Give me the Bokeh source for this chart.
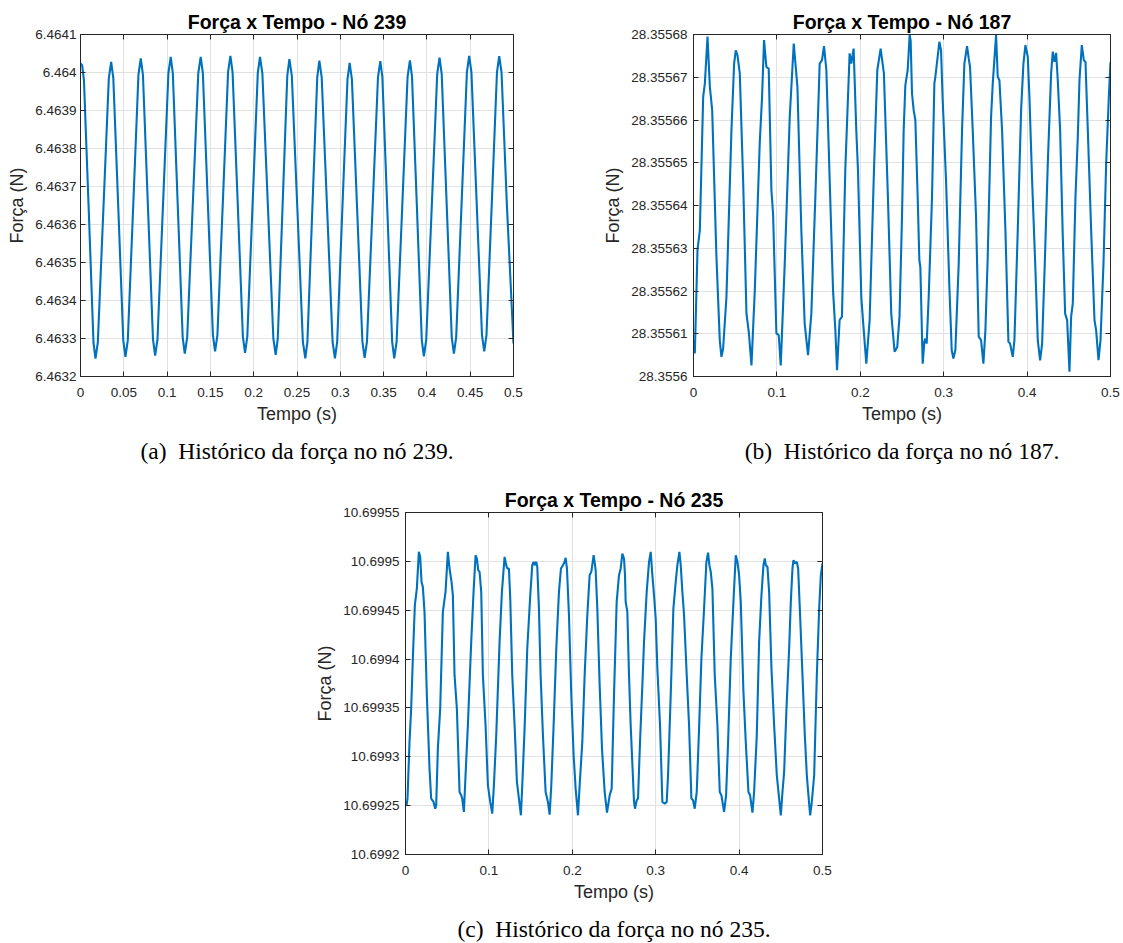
from bokeh.plotting import figure
from bokeh.models import Range1d, FixedTicker, LinearAxis, CustomJSTickFormatter, Title
from bokeh.layouts import column, row
from bokeh.embed import file_html
from bokeh.resources import INLINE

# ---------------- data: node 239 ----------------
t_239 = [
    0.0000, 0.0019, 0.0040, 0.0096, 0.0150, 0.0173,
    0.0200, 0.0264, 0.0327, 0.0354, 0.0379, 0.0437, 0.0494, 0.0519,
    0.0546, 0.0608, 0.0669, 0.0696, 0.0721, 0.0779, 0.0837, 0.0862,
    0.0889, 0.0952, 0.1015, 0.1042, 0.1066, 0.1123, 0.1180, 0.1204,
    0.1232, 0.1296, 0.1360, 0.1388, 0.1413, 0.1471, 0.1529, 0.1554,
    0.1581, 0.1643, 0.1704, 0.1731, 0.1756, 0.1816, 0.1875, 0.1900,
    0.1926, 0.1987, 0.2047, 0.2073, 0.2100, 0.2164, 0.2227, 0.2254,
    0.2278, 0.2333, 0.2388, 0.2412, 0.2440, 0.2504, 0.2568, 0.2596,
    0.2620, 0.2677, 0.2734, 0.2758, 0.2785, 0.2848, 0.2911, 0.2938,
    0.2964, 0.3023, 0.3083, 0.3108, 0.3134, 0.3195, 0.3255, 0.3281,
    0.3308, 0.3372, 0.3435, 0.3462, 0.3486, 0.3543, 0.3599, 0.3623,
    0.3650, 0.3714, 0.3777, 0.3804, 0.3828, 0.3885, 0.3941, 0.3965,
    0.3992, 0.4056, 0.4119, 0.4146, 0.4171, 0.4229, 0.4287, 0.4312,
    0.4338, 0.4400, 0.4462, 0.4488, 0.4514, 0.4575, 0.4636, 0.4662,
    0.4688, 0.4749, 0.4809, 0.4835, 0.4862, 0.4923, 0.5000,
]
f_239 = [
    6.464024, 6.464019, 6.463979, 6.463633, 6.463289, 6.463247,
    6.463290, 6.463638, 6.463985, 6.464028, 6.463985, 6.463640, 6.463295, 6.463252,
    6.463295, 6.463645, 6.463994, 6.464037, 6.463994, 6.463646, 6.463298, 6.463255,
    6.463298, 6.463648, 6.463998, 6.464041, 6.463998, 6.463650, 6.463303, 6.463260,
    6.463303, 6.463650, 6.463998, 6.464041, 6.463998, 6.463654, 6.463309, 6.463266,
    6.463309, 6.463655, 6.464001, 6.464044, 6.464001, 6.463653, 6.463305, 6.463262,
    6.463305, 6.463652, 6.463998, 6.464041, 6.463998, 6.463649, 6.463300, 6.463257,
    6.463300, 6.463646, 6.463992, 6.464035, 6.463992, 6.463642, 6.463291, 6.463248,
    6.463291, 6.463640, 6.463988, 6.464031, 6.463988, 6.463640, 6.463291, 6.463248,
    6.463291, 6.463637, 6.463982, 6.464025, 6.463982, 6.463637, 6.463292, 6.463249,
    6.463292, 6.463640, 6.463987, 6.464030, 6.463987, 6.463639, 6.463291, 6.463248,
    6.463291, 6.463640, 6.463989, 6.464032, 6.463989, 6.463643, 6.463296, 6.463253,
    6.463296, 6.463646, 6.463996, 6.464039, 6.463996, 6.463650, 6.463303, 6.463260,
    6.463303, 6.463652, 6.464001, 6.464044, 6.464001, 6.463655, 6.463309, 6.463266,
    6.463309, 6.463655, 6.464000, 6.464043, 6.464000, 6.463654, 6.463287,
]

# ---------------- data: node 187 ----------------
t_187 = [
    0.0000, 0.0016, 0.0048, 0.0076, 0.0116, 0.0136, 0.0168, 0.0196, 0.0224, 0.0275, 0.0315, 0.0335,
    0.0355, 0.0395, 0.0455, 0.0487, 0.0507, 0.0527, 0.0555, 0.0595, 0.0635, 0.0663, 0.0695,
    0.0735, 0.0794, 0.0822, 0.0846, 0.0874, 0.0902, 0.0934, 0.0954, 0.0994, 0.1022, 0.1046,
    0.1094, 0.1154, 0.1202, 0.1246, 0.1293, 0.1333, 0.1373,
    0.1413, 0.1461, 0.1513, 0.1541, 0.1565, 0.1593, 0.1633, 0.1673, 0.1701, 0.1721,
    0.1752, 0.1780, 0.1820, 0.1872, 0.1892, 0.1920, 0.1952, 0.1972, 0.2012, 0.2032, 0.2072,
    0.2112, 0.2164, 0.2204, 0.2244, 0.2283, 0.2331, 0.2371, 0.2411, 0.2443,
    0.2470, 0.2500, 0.2520, 0.2540, 0.2568, 0.2592, 0.2604, 0.2620, 0.2640, 0.2660, 0.2688, 0.2708, 0.2720, 0.2748,
    0.2768, 0.2780, 0.2796, 0.2820, 0.2860, 0.2888, 0.2900, 0.2948, 0.2968, 0.2988, 0.3028, 0.3068, 0.3096, 0.3116,
    0.3140, 0.3180, 0.3220, 0.3248, 0.3280, 0.3300, 0.3316, 0.3348, 0.3388, 0.3420, 0.3448, 0.3476,
    0.3500, 0.3528, 0.3568, 0.3588, 0.3628, 0.3648, 0.3668, 0.3700, 0.3740, 0.3776, 0.3796, 0.3828,
    0.3848, 0.3888, 0.3928, 0.3956, 0.3980, 0.4008, 0.4028, 0.4060, 0.4100, 0.4128, 0.4156,
    0.4180, 0.4212, 0.4248, 0.4288, 0.4308, 0.4328, 0.4348, 0.4368, 0.4396, 0.4428, 0.4456, 0.4480, 0.4508,
    0.4528, 0.4548, 0.4580, 0.4608, 0.4628, 0.4656, 0.4680, 0.4700, 0.4728, 0.4768, 0.4808, 0.4828, 0.4856,
    0.4880, 0.4916, 0.4948, 0.4980, 0.5000,
]
f_187 = [
    28.3556085, 28.3556054, 28.3556296, 28.3556342, 28.3556654, 28.3556685, 28.3556795, 28.3556678, 28.3556623, 28.3556280, 28.3556085, 28.3556046,
    28.3556065, 28.3556186, 28.3556576, 28.3556732, 28.3556763, 28.3556752, 28.3556709, 28.3556459, 28.3556147, 28.3556104, 28.3556026,
    28.3556202, 28.3556545, 28.3556654, 28.3556787, 28.3556724, 28.3556720, 28.3556436, 28.3556381, 28.3556101, 28.3556097, 28.3556026,
    28.3556264, 28.3556607, 28.3556779, 28.3556678, 28.3556342, 28.3556124, 28.3556050,
    28.3556147, 28.3556420, 28.3556732, 28.3556740, 28.3556773, 28.3556717, 28.3556459, 28.3556202, 28.3556108, 28.3556015,
    28.3556132, 28.3556140, 28.3556483, 28.3556756, 28.3556732, 28.3556767, 28.3556576, 28.3556483, 28.3556186, 28.3556132, 28.3556030,
    28.3556132, 28.3556483, 28.3556717, 28.3556767, 28.3556709, 28.3556420, 28.3556147, 28.3556058, 28.3556069,
    28.3556140, 28.3556373, 28.3556576, 28.3556681, 28.3556717, 28.3556799, 28.3556785, 28.3556662, 28.3556623, 28.3556600, 28.3556420, 28.3556272, 28.3556256, 28.3556030,
    28.3556081, 28.3556089, 28.3556077, 28.3556186, 28.3556420, 28.3556685, 28.3556701, 28.3556783, 28.3556763, 28.3556646, 28.3556459, 28.3556210, 28.3556062, 28.3556042,
    28.3556062, 28.3556264, 28.3556576, 28.3556732, 28.3556773, 28.3556744, 28.3556724, 28.3556576, 28.3556373, 28.3556093, 28.3556085, 28.3556030,
    28.3556108, 28.3556280, 28.3556607, 28.3556685, 28.3556799, 28.3556701, 28.3556693, 28.3556576, 28.3556342, 28.3556081, 28.3556077, 28.3556046,
    28.3556085, 28.3556342, 28.3556623, 28.3556732, 28.3556775, 28.3556748, 28.3556654, 28.3556459, 28.3556249, 28.3556085, 28.3556038,
    28.3556077, 28.3556264, 28.3556498, 28.3556709, 28.3556760, 28.3556736, 28.3556757, 28.3556693, 28.3556576, 28.3556327, 28.3556147, 28.3556132, 28.3556011,
    28.3556140, 28.3556171, 28.3556420, 28.3556561, 28.3556693, 28.3556775, 28.3556740, 28.3556736, 28.3556576, 28.3556342, 28.3556132, 28.3556108, 28.3556038,
    28.3556085, 28.3556264, 28.3556498, 28.3556654, 28.3556736,
]

# ---------------- data: node 235 ----------------
t_235 = [
    0.0000, 0.0012, 0.0024, 0.0048, 0.0068, 0.0088, 0.0112, 0.0136, 0.0160, 0.0176, 0.0192, 0.0208, 0.0228, 0.0256, 0.0288, 0.0308, 0.0336, 0.0356,
    0.0368, 0.0388, 0.0416, 0.0448, 0.0480, 0.0508, 0.0528, 0.0552, 0.0568, 0.0588, 0.0616, 0.0648, 0.0668, 0.0680, 0.0700,
    0.0720, 0.0748, 0.0788, 0.0816, 0.0840, 0.0856, 0.0872, 0.0888, 0.0908, 0.0928, 0.0960, 0.0988, 0.1016, 0.1040,
    0.1060, 0.1088, 0.1128, 0.1156, 0.1188, 0.1208, 0.1220, 0.1240, 0.1256, 0.1280, 0.1308, 0.1336, 0.1360, 0.1384,
    0.1400, 0.1428, 0.1460, 0.1496, 0.1520, 0.1536, 0.1548, 0.1568, 0.1580, 0.1600, 0.1620, 0.1648, 0.1680, 0.1708, 0.1728,
    0.1748, 0.1776, 0.1808, 0.1840, 0.1864, 0.1888, 0.1908, 0.1920, 0.1936, 0.1960, 0.1988, 0.2016, 0.2040, 0.2068,
    0.2088, 0.2120, 0.2148, 0.2180, 0.2208, 0.2228, 0.2256, 0.2280, 0.2300, 0.2328, 0.2356, 0.2388, 0.2416,
    0.2448, 0.2472, 0.2500, 0.2532, 0.2560, 0.2580, 0.2600, 0.2620, 0.2632, 0.2640, 0.2660, 0.2680, 0.2700, 0.2740, 0.2752,
    0.2772, 0.2788, 0.2812, 0.2840, 0.2860, 0.2892, 0.2920, 0.2940, 0.2960, 0.2980, 0.3000, 0.3020, 0.3052, 0.3080, 0.3108,
    0.3132, 0.3148, 0.3180, 0.3212, 0.3240, 0.3260, 0.3284, 0.3300, 0.3320, 0.3340, 0.3372, 0.3400, 0.3428, 0.3448, 0.3468,
    0.3492, 0.3520, 0.3548, 0.3580, 0.3608, 0.3628, 0.3644, 0.3660, 0.3680, 0.3708, 0.3740, 0.3768, 0.3788, 0.3820,
    0.3844, 0.3868, 0.3900, 0.3932, 0.3960, 0.3980, 0.4000, 0.4020, 0.4052, 0.4080, 0.4112, 0.4132, 0.4160,
    0.4180, 0.4212, 0.4240, 0.4268, 0.4292, 0.4308, 0.4320, 0.4340, 0.4360, 0.4388, 0.4420, 0.4452, 0.4468, 0.4500,
    0.4520, 0.4540, 0.4568, 0.4600, 0.4620, 0.4640, 0.4652, 0.4672, 0.4692, 0.4708, 0.4728, 0.4760, 0.4788, 0.4812, 0.4828, 0.4852,
    0.4872, 0.4900, 0.4932, 0.4960, 0.4980, 0.5000,
]
f_235 = [
    10.6992544, 10.6992503, 10.6992572, 10.6993152, 10.6993493, 10.6994005, 10.6994551, 10.6994722, 10.6995097, 10.6995046, 10.6994790, 10.6994739, 10.6994483, 10.6993630, 10.6992879, 10.6992572, 10.6992538, 10.6992469,
    10.6992503, 10.6993084, 10.6993493, 10.6994483, 10.6994688, 10.6995097, 10.6994927, 10.6994790, 10.6994654, 10.6993835, 10.6993493, 10.6992640, 10.6992606, 10.6992572, 10.6992435,
    10.6992811, 10.6993323, 10.6994176, 10.6994688, 10.6995063, 10.6995029, 10.6994910, 10.6994893, 10.6994688, 10.6993835, 10.6993323, 10.6992708, 10.6992538, 10.6992418,
    10.6992708, 10.6993220, 10.6994176, 10.6994688, 10.6995046, 10.6994961, 10.6994927, 10.6994927, 10.6994620, 10.6993835, 10.6993323, 10.6992742, 10.6992572, 10.6992401,
    10.6992708, 10.6993288, 10.6994108, 10.6994654, 10.6994961, 10.6994995, 10.6994961, 10.6994995, 10.6994944, 10.6994517, 10.6993835, 10.6993220, 10.6992640, 10.6992538, 10.6992408,
    10.6992708, 10.6993323, 10.6994108, 10.6994688, 10.6994927, 10.6994961, 10.6994995, 10.6995036, 10.6994927, 10.6994449, 10.6993630, 10.6993015, 10.6992674, 10.6992401,
    10.6992708, 10.6993152, 10.6993835, 10.6994449, 10.6994859, 10.6994893, 10.6995063, 10.6994910, 10.6994517, 10.6993732, 10.6993084, 10.6992640, 10.6992428,
    10.6992606, 10.6992674, 10.6993630, 10.6994585, 10.6994859, 10.6994927, 10.6995080, 10.6995029, 10.6994859, 10.6994585, 10.6994483, 10.6993835, 10.6993323, 10.6992538, 10.6992469,
    10.6992555, 10.6992572, 10.6993152, 10.6993732, 10.6994176, 10.6994688, 10.6994995, 10.6995097, 10.6994859, 10.6994654, 10.6994415, 10.6993903, 10.6993323, 10.6992538, 10.6992521,
    10.6992538, 10.6992811, 10.6993630, 10.6994517, 10.6994790, 10.6994961, 10.6995097, 10.6994961, 10.6994688, 10.6994449, 10.6993835, 10.6993323, 10.6992572, 10.6992555, 10.6992469,
    10.6992640, 10.6993288, 10.6994005, 10.6994517, 10.6994995, 10.6995090, 10.6994961, 10.6994893, 10.6994722, 10.6993835, 10.6993323, 10.6992640, 10.6992606, 10.6992435,
    10.6992606, 10.6993152, 10.6994005, 10.6994585, 10.6995063, 10.6994995, 10.6994859, 10.6994585, 10.6993664, 10.6993152, 10.6992640, 10.6992606, 10.6992428,
    10.6992640, 10.6993220, 10.6994176, 10.6994654, 10.6994961, 10.6995029, 10.6994961, 10.6994944, 10.6994688, 10.6993903, 10.6993323, 10.6992811, 10.6992674, 10.6992401,
    10.6992640, 10.6992845, 10.6993493, 10.6994108, 10.6994585, 10.6994927, 10.6995012, 10.6994978, 10.6994995, 10.6994927, 10.6994517, 10.6993835, 10.6993220, 10.6992811, 10.6992640, 10.6992401,
    10.6992538, 10.6992811, 10.6993835, 10.6994517, 10.6994859, 10.6994978,
]

assert len(t_239) == len(f_239)
assert len(t_187) == len(f_187)
assert len(t_235) == len(f_235)

# ---------------- ticks ----------------
x_ticks_005 = [0, 0.05, 0.1, 0.15, 0.2, 0.25, 0.3, 0.35, 0.4, 0.45, 0.5]
x_labels_005 = ["0", "0.05", "0.1", "0.15", "0.2", "0.25", "0.3", "0.35", "0.4", "0.45", "0.5"]
x_ticks_01 = [0, 0.1, 0.2, 0.3, 0.4, 0.5]
x_labels_01 = ["0", "0.1", "0.2", "0.3", "0.4", "0.5"]

y_ticks_239 = [6.4632, 6.4633, 6.4634, 6.4635, 6.4636, 6.4637, 6.4638, 6.4639, 6.4640, 6.4641]
y_labels_239 = ["6.4632", "6.4633", "6.4634", "6.4635", "6.4636", "6.4637", "6.4638", "6.4639", "6.464", "6.4641"]
y_ticks_187 = [28.3556, 28.35561, 28.35562, 28.35563, 28.35564, 28.35565, 28.35566, 28.35567, 28.35568]
y_labels_187 = ["28.3556", "28.35561", "28.35562", "28.35563", "28.35564", "28.35565", "28.35566", "28.35567", "28.35568"]
y_ticks_235 = [10.6992, 10.69925, 10.6993, 10.69935, 10.6994, 10.69945, 10.6995, 10.69955]
y_labels_235 = ["10.6992", "10.69925", "10.6993", "10.69935", "10.6994", "10.69945", "10.6995", "10.69955"]

titles = ["Força x Tempo - Nó 239", "Força x Tempo - Nó 187", "Força x Tempo - Nó 235"]
captions = ["(a)\u2002Histórico da força no nó 239.",
            "(b)\u2002Histórico da força no nó 187.",
            "(c)\u2002Histórico da força no nó 235."]

AX = "#262626"
GRID = "#e2e2e2"
LINE = "#0072BD"
SANS = "Liberation Sans"
SERIF = "Liberation Serif"


def fmt(vals, labs):
    return CustomJSTickFormatter(args=dict(vals=vals, labs=labs), code="""
let b = 0, d = Infinity;
for (let i = 0; i < vals.length; i++) {
  const e = Math.abs(vals[i] - tick);
  if (e < d) { d = e; b = i; }
}
return labs[b];
""")


def panel(t, f, xt, xl, yt, yl, title, caption, fw, bl, br, bt, bb, ystand, xstand):
    p = figure(frame_width=fw, frame_height=342,
               x_range=Range1d(0, 0.5), y_range=Range1d(yt[0], yt[-1]),
               output_backend="svg", toolbar_location=None,
               min_border_left=bl, min_border_right=br,
               min_border_top=bt, min_border_bottom=bb,
               background_fill_color="white", border_fill_color="white")
    p.title.text = title
    p.title.align = "center"
    p.title.text_font = SANS
    p.title.text_font_size = "19.5px"
    p.title.text_font_style = "bold"
    p.title.text_color = "black"
    p.title.standoff = 4

    p.outline_line_color = AX
    p.outline_line_width = 1
    p.outline_line_alpha = 1

    xa = p.xaxis[0]
    xa.ticker = FixedTicker(ticks=xt)
    xa.formatter = fmt(xt, xl)
    xa.axis_label = "Tempo (s)"
    xa.major_label_standoff = xstand
    xa.axis_label_standoff = 4
    ya = p.yaxis[0]
    ya.ticker = FixedTicker(ticks=yt)
    ya.formatter = fmt(yt, yl)
    ya.axis_label = "Força (N)"
    ya.major_label_standoff = ystand
    ya.axis_label_standoff = 5

    for ax in (xa, ya):
        ax.major_tick_in = 5
        ax.major_tick_out = 0
        ax.minor_tick_line_color = None
        ax.axis_line_color = AX
        ax.major_tick_line_color = AX
        ax.major_label_text_color = AX
        ax.major_label_text_font = SANS
        ax.major_label_text_font_size = "13.5px"
        ax.axis_label_text_font = SANS
        ax.axis_label_text_font_size = "18px"
        ax.axis_label_text_font_style = "normal"
        ax.axis_label_text_color = AX

    for loc, tk in (("above", xt), ("right", yt)):
        ax = LinearAxis(ticker=FixedTicker(ticks=tk),
                        formatter=CustomJSTickFormatter(code="return ''"),
                        major_tick_in=5, major_tick_out=0,
                        minor_tick_line_color=None,
                        axis_line_color=AX, major_tick_line_color=AX,
                        major_label_standoff=0,
                        major_label_text_font_size="0px")
        p.add_layout(ax, loc)

    p.xgrid.ticker = FixedTicker(ticks=xt)
    p.ygrid.ticker = FixedTicker(ticks=yt)
    p.xgrid.grid_line_color = GRID
    p.ygrid.grid_line_color = GRID
    p.xgrid.grid_line_width = 1
    p.ygrid.grid_line_width = 1

    p.line(t, f, line_color=LINE, line_width=2.1)

    cap = Title(text=caption, align="center", text_font=SERIF,
                text_font_size="23.5px", text_font_style="normal",
                text_color="black", standoff=19)
    p.add_layout(cap, "below")
    return p


pa = panel(t_239, f_239, x_ticks_005, x_labels_005, y_ticks_239, y_labels_239,
           titles[0], captions[0], 433, 80, 87, 34, 104, 4, 11)
pb = panel(t_187, f_187, x_ticks_01, x_labels_01, y_ticks_187, y_labels_187,
           titles[1], captions[1], 417, 92, 14, 34, 104, 6, 11)
pc = panel(t_235, f_235, x_ticks_01, x_labels_01, y_ticks_235, y_labels_235,
           titles[2], captions[2], 417, 405, 301, 32, 89, 6, 11)

layout = column(row(pa, pb), row(pc))
open("out.html", "w").write(file_html(layout, INLINE))
